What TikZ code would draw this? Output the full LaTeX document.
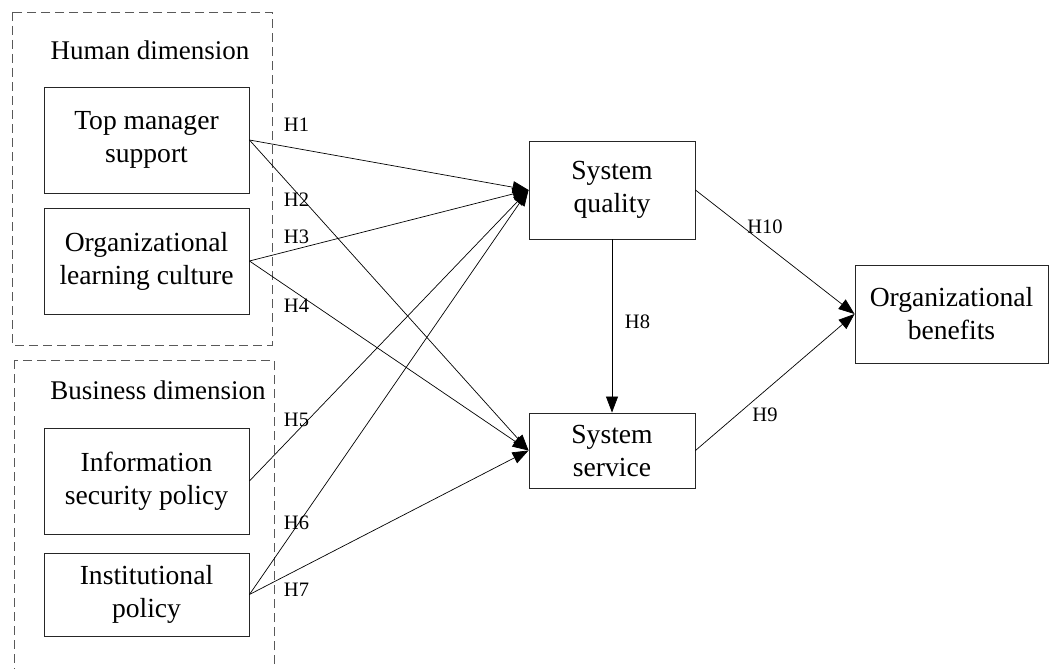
\documentclass[tikz,border=0pt]{standalone}
\usepackage{fontspec}
\setmainfont{Liberation Serif}
\usetikzlibrary{arrows.meta}
\tikzset{
  box/.style={draw=black!85, line width=0.9pt, minimum width=205pt, inner sep=0pt, align=center, font=\fontsize{27.6}{33}\selectfont},
  grp/.style={draw=black!65, line width=0.8pt, dash pattern=on 9pt off 5pt},
  ttl/.style={font=\fontsize{27}{33}\selectfont, inner sep=0pt},
  hl/.style={font=\fontsize{20.5}{24}\selectfont, inner sep=0pt},
  arr/.style={line width=0.7pt, -{Triangle[length=16pt,width=12pt]}}
}
\begin{document}
\begin{tikzpicture}[x=1pt,y=-1pt]
\useasboundingbox (0,0) rectangle (1049,669);
\clip (0,0) rectangle (1049,669);
% group frames
\draw[grp] (12,12) rectangle (272,345);
\draw[grp] (14,360) rectangle (274,690);
\node[ttl] (hd) at (150,50) {Human dimension};
\node[ttl] (bd) at (158,390) {Business dimension};
% left boxes
\node[box, minimum height=106pt] (tms) at (146.5,140) {Top manager\\support};
\node[box, minimum height=106pt] (olc) at (146.5,261) {Organizational\\learning culture};
\node[box, minimum height=106pt] (isp) at (146.5,481) {Information\\security policy};
\node[box, minimum height=83pt] (ip) at (146.5,594.5) {Institutional\\policy};
% middle boxes
\node[box, minimum width=166pt, minimum height=98pt] (sq) at (612,190) {System\\quality};
\node[box, minimum width=166pt, minimum height=75pt] (ss) at (612,450.5) {System\\service};
\node[box, minimum width=193pt, minimum height=98pt] (ob) at (951.5,314) {Organizational\\benefits};
% connectors
\draw[arr] (tms.east) -- (sq.west);
\draw[arr] (tms.east) -- (ss.west);
\draw[arr] (olc.east) -- (sq.west);
\draw[arr] (olc.east) -- (ss.west);
\draw[arr] (isp.east) -- (sq.west);
\draw[arr] (ip.east) -- (sq.west);
\draw[arr] (ip.east) -- (ss.west);
\draw[arr] (sq.south) -- (ss.north);
\draw[arr] (sq.east) -- (ob.west);
\draw[arr] (ss.east) -- (ob.west);
% labels
\node[hl] (h1) at (296.5,125) {H1};
\node[hl] (h2) at (296.5,200) {H2};
\node[hl] (h3) at (296.5,237) {H3};
\node[hl] (h4) at (296.5,306) {H4};
\node[hl] (h5) at (296.5,420) {H5};
\node[hl] (h6) at (296.5,523) {H6};
\node[hl] (h7) at (296.5,590) {H7};
\node[hl] (h8) at (637.5,322) {H8};
\node[hl] (h9) at (765,415) {H9};
\node[hl] (h10) at (765,227) {H10};
\end{tikzpicture}
\end{document}
